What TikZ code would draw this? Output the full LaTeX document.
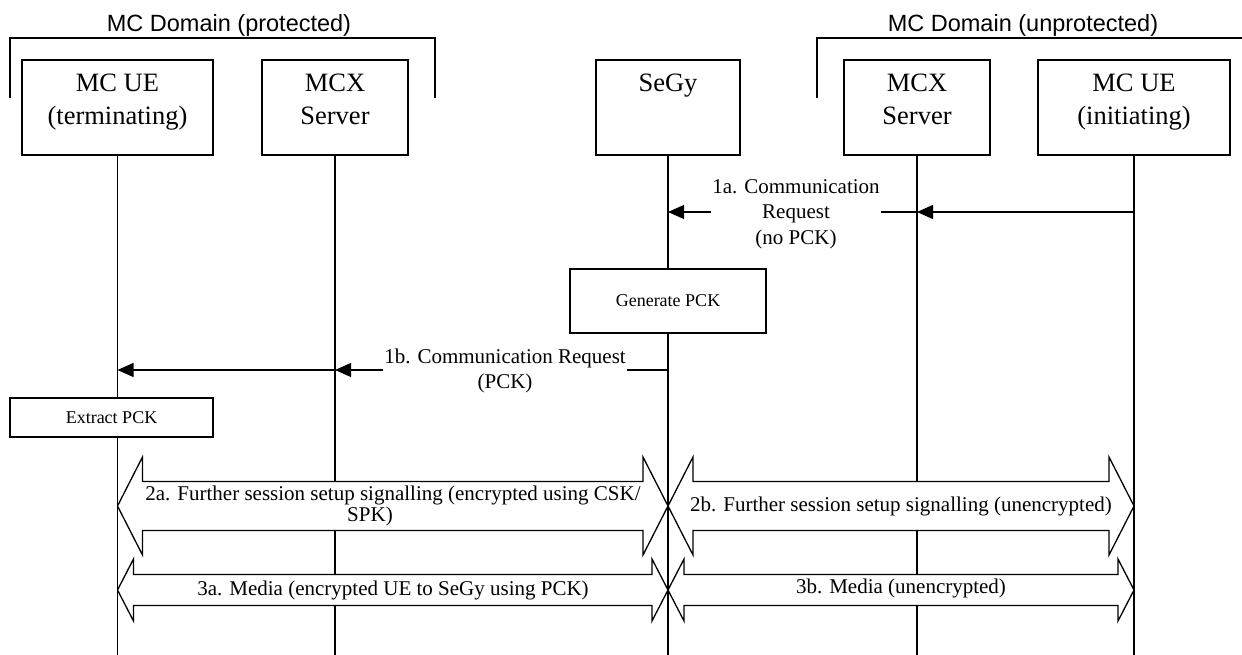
\documentclass[tikz,border=0pt]{standalone}
\usepackage{fontspec}
\setmainfont{Liberation Serif}
\newfontfamily\arialf{Liberation Sans}
\usetikzlibrary{arrows.meta,calc}
\newcommand\blockarr[6]{%
  \draw[blk] ($(#1|-#3)$) -- ++(#6,-#5) -- ++(0,#5-#4) -- ($(#2|-#3)+(-#6,-#4)$) -- ++(0,#4-#5)
    -- ($(#2|-#3)$) -- ++(-#6,#5) -- ++(0,#4-#5) -- ($(#1|-#3)+(#6,#4)$) -- ++(0,#5-#4) -- cycle;}
\begin{document}
\begin{tikzpicture}[x=1pt,y=-1pt,line width=1.3pt,
  ptbox/.style={draw,fill=white,inner sep=0pt,minimum height=95pt},
  pttext/.style={align=center,anchor=north,inner sep=0pt,font=\fontsize{26.5}{33}\selectfont},
  actbox/.style={draw,fill=white,inner sep=0pt,font=\fontsize{18}{21}\selectfont},
  msg/.style={-{Triangle[length=16pt,width=14pt]}},
  lbl/.style={font=\fontsize{21}{25.5}\selectfont,align=center,fill=white,inner sep=1.5pt},
  blktext/.style={font=\fontsize{21}{21}\selectfont,align=center,inner sep=0pt},
  blk/.style={draw,fill=white,line join=miter},
  title/.style={font=\arialf\fontsize{23.5}{28}\selectfont,inner sep=0pt}]
\useasboundingbox (0,0) rectangle (1242,655);
% domain brackets
\node[title] (tP) at (229,25) {MC Domain (protected)};
\node[title] (tU) at (1023,25) {MC Domain (unprotected)};
\draw (10,98) -- (10,38) -- (435,38) -- (435,98);
\draw (817,98) -- (817,38) -- (1243,38);
% participants
\node[ptbox,minimum width=191pt] (ueT) at (117.5,107.5) {};
\node[ptbox,minimum width=146pt] (mcxP) at (335,107.5) {};
\node[ptbox,minimum width=144pt] (segy) at (668,107.5) {};
\node[ptbox,minimum width=146pt] (mcxU) at (917,107.5) {};
\node[ptbox,minimum width=192pt] (ueI) at (1134,107.5) {};
\node[pttext] (ueTt) at ([yshift=-14pt]ueT.north) {MC UE\\(terminating)};
\node[pttext] (mcxPt) at ([yshift=-14pt]mcxP.north) {MCX\\Server};
\node[pttext] (segyt) at ([yshift=-14pt]segy.north) {SeGy};
\node[pttext] (mcxUt) at ([yshift=-14pt]mcxU.north) {MCX\\Server};
\node[pttext] (ueIt) at ([yshift=-14pt]ueI.north) {MC UE\\(initiating)};
% lifelines
\coordinate (bot) at (0,656);
\foreach \p in {ueT,mcxP,segy,mcxU,ueI} \draw (\p.south) -- (\p.south |- bot);
% rows
\coordinate (y1a) at (0,212);
\coordinate (y1b) at (0,370);
\coordinate (y2) at (0,506);
\coordinate (y3) at (0,590);
% 1a
\draw[msg] (ueI |- y1a) -- (mcxU |- y1a);
\draw[msg] (mcxU |- y1a) -- (segy |- y1a);
\node[lbl] (l1a) at (796,214) {1a. Communication\\Request\\(no PCK)};
% generate
\node[actbox,minimum width=196pt,minimum height=64pt] (gen) at (668,301) {Generate PCK};
% 1b
\draw[msg] (segy |- y1b) -- (mcxP |- y1b);
\draw[msg] (mcxP |- y1b) -- (ueT |- y1b);
\node[lbl] (l1b) at (505,371) {1b. Communication Request\\(PCK)};
% extract
\node[actbox,minimum width=203pt,minimum height=39pt] (ext) at (111.5,417.5) {Extract PCK};
% 2a / 2b
\blockarr{ueT}{segy}{y2}{24.5}{49}{25}
\blockarr{segy}{ueI}{y2}{24.5}{49}{25}
\node[blktext] (l2a) at (393,506) {2a. Further session setup signalling (encrypted using CSK/\\\hspace*{-46pt}SPK)};
\node[blktext] (l2b) at (901,506) {2b. Further session setup signalling (unencrypted)};
% 3a / 3b
\blockarr{ueT}{segy}{y3}{15.5}{31}{16}
\blockarr{segy}{ueI}{y3}{15.5}{31}{16}
\node[blktext] (l3a) at (393,590) {3a. Media (encrypted UE to SeGy using PCK)};
\node[blktext] (l3b) at (901,588) {3b. Media (unencrypted)};
\end{tikzpicture}
\end{document}
